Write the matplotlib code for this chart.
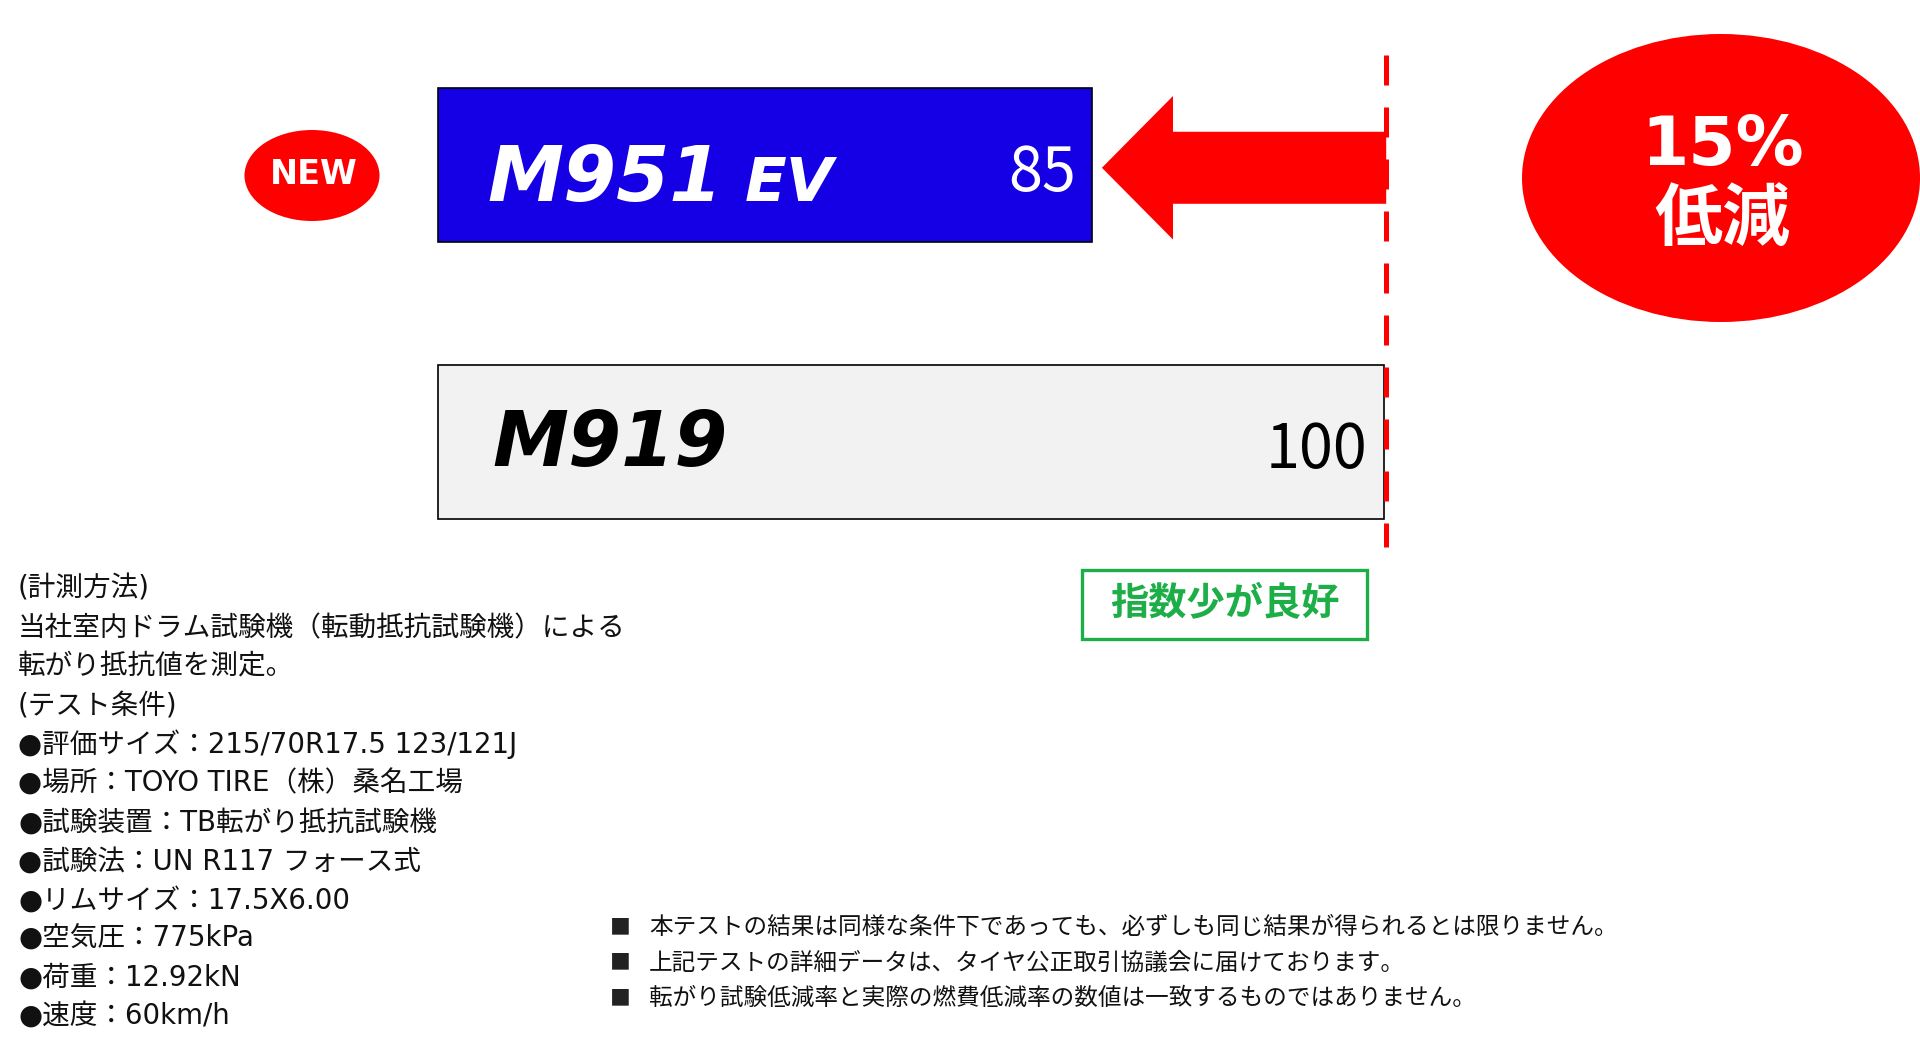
import matplotlib
matplotlib.use('Agg')
import matplotlib.pyplot as plt
from matplotlib.patches import Ellipse, FancyArrow, Rectangle

plt.rcParams['font.family'] = ['Noto Sans CJK JP', 'DejaVu Sans']

# data
tires = ['M951', 'M919']
rr_index = [85, 100]
reduction_pct = 15

method_lines = [
    '(計測方法)',
    '当社室内ドラム試験機（転動抵抗試験機）による',
    '転がり抵抗値を測定。',
    '(テスト条件)',
    '●評価サイズ：215/70R17.5 123/121J',
    '●場所：TOYO TIRE（株）桑名工場',
    '●試験装置：TB転がり抵抗試験機',
    '●試験法：UN R117 フォース式',
    '●リムサイズ：17.5X6.00',
    '●空気圧：775kPa',
    '●荷重：12.92kN',
    '●速度：60km/h',
]
notes = [
    '本テストの結果は同様な条件下であっても、必ずしも同じ結果が得られるとは限りません。',
    '上記テストの詳細データは、タイヤ公正取引協議会に届けております。',
    '転がり試験低減率と実際の燃費低減率の数値は一致するものではありません。',
]

BLUE = '#1500E6'
GREY = '#F2F2F2'
RED = '#FF0000'
GREEN = '#1DAE48'
MIXED = ['DejaVu Sans', 'Noto Sans CJK JP']  # latin like Meiryo, CJK from Noto

W, H = 1920, 1052
BASE = 51.4          # value where the bars start
PX_PER_UNIT = 19.47  # horizontal scale
X0_PX = 438          # pixel of BASE
ROW_PX = 277         # pixels between the two bars
Y0_PX = 165          # pixel of first bar centre

fig = plt.figure(figsize=(W / 100, H / 100), dpi=100)

# data axes, covering the whole figure
ax = fig.add_axes([0, 0, 1, 1])
ax.set_xlim(BASE - X0_PX / PX_PER_UNIT, BASE + (W - X0_PX) / PX_PER_UNIT)
ax.set_ylim((H - Y0_PX) / ROW_PX, -Y0_PX / ROW_PX)
ax.axis('off')


def yi(p):
    return (p - Y0_PX) / ROW_PX


ypos = list(range(len(tires)))
widths = [v - BASE for v in rr_index]
ax.barh(ypos, widths, left=BASE, height=154 / ROW_PX,
        color=[BLUE, GREY], edgecolor='black', linewidth=1.2, zorder=2)

# value labels
for y, v, c in zip(ypos, rr_index, ['white', 'black']):
    ax.annotate(str(v), (v, y), xytext=(-12, -19), textcoords='offset points',
                ha='right', va='baseline', fontsize=44, color=c, zorder=4)

# reference line at 100
ax.vlines(rr_index[1] + 0.1, yi(55), yi(547), colors=RED, linewidth=3.6,
          linestyles=(0, (6, 4.4)), zorder=3)

# arrow from 100 towards 85
tip = rr_index[0] + 0.5
ax.add_patch(FancyArrow(rr_index[1] + 0.1, 0.01, tip - rr_index[1] - 0.1, 0,
                        width=0.26, head_width=0.518, head_length=3.65,
                        length_includes_head=True, color=RED, lw=0, zorder=3))

# overlay in pixel coordinates for decorations and text
ov = fig.add_axes([0, 0, 1, 1])
ov.set_xlim(0, W)
ov.set_ylim(H, 0)
ov.axis('off')
ov.patch.set_alpha(0)

# model names
ov.text(487, 201, tires[0], fontsize=55, fontweight='bold', fontstyle='oblique',
        family='DejaVu Sans', color='white', va='baseline', zorder=5)
ov.text(745, 201, 'EV', fontsize=44, fontweight='bold', fontstyle='oblique',
        family='DejaVu Sans', color='white', va='baseline', zorder=5)
ov.text(492, 466, tires[1], fontsize=55, fontweight='bold', fontstyle='oblique',
        family='DejaVu Sans', color='black', va='baseline', zorder=5)

# NEW badge
ov.add_patch(Ellipse((312, 175.5), 135, 91, color=RED, lw=0))
ov.text(314, 174, 'NEW', fontsize=24, fontweight='bold', family='DejaVu Sans',
        color='white', ha='center', va='center')

# reduction badge
ov.add_patch(Ellipse((1721, 178), 398, 288, color=RED, lw=0))
ov.text(1723, 165, f'{reduction_pct}%', fontsize=49, fontweight='bold',
        family='DejaVu Sans', color='white', ha='center', va='baseline')
ov.text(1722, 220, '低減', fontsize=49, fontweight='bold', color='white',
        ha='center', va='center')

# "lower is better" box
ov.add_patch(Rectangle((1082, 570), 285, 69, fill=False, edgecolor=GREEN, lw=2.4))
ov.text(1224.5, 604, '指数少が良好', fontsize=27.5, fontweight='bold',
        color=GREEN, ha='center', va='center')

# measurement conditions
for k, line in enumerate(method_lines):
    ov.text(18, 589 + k * 38.9, line, fontsize=19.9, color='#111111',
            family=MIXED, ha='left', va='center')

# notes
for k, line in enumerate(notes):
    y = 927 + k * 35.5
    ov.text(610, y, '■', fontsize=15, color='#222222', ha='left', va='center')
    ov.text(649, y, line, fontsize=17, color='#111111', family=MIXED,
            ha='left', va='center')

fig.savefig('out.png', dpi=100, facecolor='white')
